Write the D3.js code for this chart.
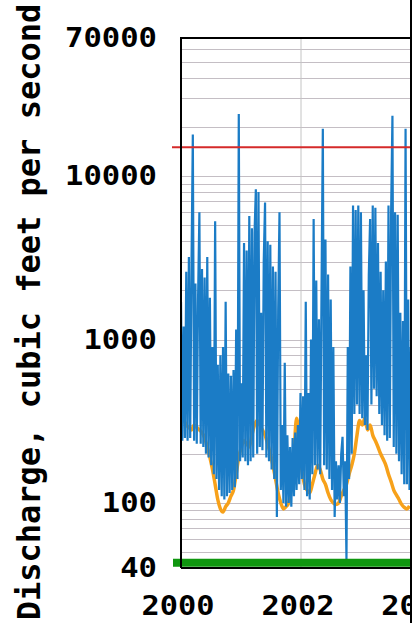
<!DOCTYPE html>
<html>
<head>
<meta charset="utf-8">
<script src="https://cdn.jsdelivr.net/npm/d3@7"></script>
<style>
body { margin: 0; background: #fff; }
svg { display: block; }
</style>
</head>
<body>
<div id="chart-area"></div>
<script>
// daily discharge, sampled every 8 days from 2000-01-01 (cfs)
var discharge = [
    1700, 240, 1200, 250, 2600, 240, 3200, 250, 2900, 18000,
    240, 2200, 230, 1800, 6000, 230, 2700, 220, 2400, 200,
    3200, 190, 1800, 170, 900, 150, 5300, 140, 700, 120,
    800, 110, 900, 105, 1700, 110, 620, 115, 600, 120,
    650, 125, 1150, 140, 24000, 180, 540, 190, 3900, 180,
    3500, 170, 5700, 180, 4800, 190, 4500, 8300, 200, 8000,
    220, 1460, 210, 3000, 6900, 190, 4000, 180, 3800, 160,
    2800, 140, 2600, 82, 1500, 6000, 120, 300, 100, 720,
    95, 260, 100, 220, 95, 250, 110, 270, 120, 300,
    130, 470, 140, 450, 120, 1700, 110, 470, 105, 1000,
    150, 5460, 170, 2300, 160, 1330, 150, 2000, 19500, 170,
    4100, 160, 2500, 140, 1760, 120, 900, 82, 180, 105,
    170, 100, 200, 254, 110, 180, 45, 900, 140, 2800,
    200, 6600, 350, 6200, 400, 6600, 350, 6000, 330, 2000,
    300, 800, 280, 2500, 5460, 400, 6600, 500, 6400, 450,
    3900, 350, 2600, 300, 2000, 260, 3000, 240, 6600, 250,
    6000, 23400, 220, 6000, 200, 5800, 180, 1460, 150, 1300,
    130, 19500, 130, 1760, 120, 900
];
var dischargeStepDays = 8;

// orange series, every 16 days from 2000-01-01 (cfs)
var baseflow = [
    380, 330, 300, 290, 280, 300, 290, 280, 270, 250,
    220, 190, 160, 130, 105, 92, 88, 95, 100, 110,
    120, 150, 190, 220, 240, 230, 220, 260, 300, 320,
    300, 280, 260, 230, 200, 170, 140, 115, 100, 92,
    95, 100, 130, 200, 330, 250, 160, 130, 120, 115,
    130, 150, 170, 160, 140, 130, 115, 105, 100, 98,
    100, 110, 120, 130, 150, 170, 200, 260, 320, 300,
    330, 280, 300, 260, 240, 220, 200, 185, 170, 150,
    135, 120, 112, 105, 98, 94, 92, 96
];
var baseflowStepDays = 16;

var yTicks = [40, 100, 1000, 10000, 70000];
var xTickYears = [2000, 2002, 2004];
var floodLevel = 15000;
var lowLevel = 43;

var plotLeft = 181, plotRight = 411, plotTop = 38, plotBottom = 568;
var start = new Date(2000, 0, 1);

var svg = d3.select("#chart-area")
    .append("svg")
        .attr("width", 415)
        .attr("height", 623);

var x = d3.scaleTime()
    .domain([start, new Date(2002, 0, 1)])
    .range([plotLeft, 301]);

var y = d3.scaleLog()
    .domain([40, 70000])
    .range([plotBottom, plotTop]);

svg.append("clipPath")
    .attr("id", "plot-clip")
  .append("rect")
    .attr("x", plotLeft)
    .attr("y", plotTop)
    .attr("width", plotRight - plotLeft)
    .attr("height", plotBottom - plotTop);

// horizontal grid, 1-9 per decade
var gridVals = [];
[10, 100, 1000, 10000].forEach(function(dec) {
    for (var m = 1; m <= 9; m++) {
        var v = dec * m;
        if (v > 40 && v < 70000) gridVals.push(v);
    }
});

svg.append("g")
    .selectAll("line")
    .data(gridVals)
    .enter().append("line")
        .attr("x1", plotLeft)
        .attr("x2", plotRight)
        .attr("y1", function(d){ return Math.round(y(d)) + 0.5; })
        .attr("y2", function(d){ return Math.round(y(d)) + 0.5; })
        .attr("stroke", "#c4bec4")
        .attr("stroke-width", 1);

svg.append("g")
    .selectAll("line")
    .data(xTickYears)
    .enter().append("line")
        .attr("x1", function(d){ return x(new Date(d, 0, 1)); })
        .attr("x2", function(d){ return x(new Date(d, 0, 1)); })
        .attr("y1", plotTop)
        .attr("y2", plotBottom)
        .attr("stroke", "#c4c4c4")
        .attr("stroke-width", 1);

var plot = svg.append("g").attr("clip-path", "url(#plot-clip)");

var baseLine = d3.line()
    .x(function(d, i){ return x(d3.timeDay.offset(start, i * baseflowStepDays)); })
    .y(function(d){ return y(d); })
    .curve(d3.curveMonotoneX);

plot.append("path")
    .datum(baseflow)
    .attr("d", baseLine)
    .attr("fill", "none")
    .attr("stroke", "#f7a11a")
    .attr("stroke-width", 3.5);

var flowLine = d3.line()
    .x(function(d, i){ return x(d3.timeDay.offset(start, i * dischargeStepDays)); })
    .y(function(d){ return y(d); });

plot.append("path")
    .datum(discharge)
    .attr("d", flowLine)
    .attr("fill", "none")
    .attr("stroke", "#1b7cc6")
    .attr("stroke-width", 2.2)
    .attr("stroke-linejoin", "bevel");

// flood level
svg.append("line")
    .attr("x1", 172)
    .attr("x2", plotRight)
    .attr("y1", y(floodLevel))
    .attr("y2", y(floodLevel))
    .attr("stroke", "#d52a2a")
    .attr("stroke-width", 2);

// low level
svg.append("line")
    .attr("x1", 173)
    .attr("x2", plotRight)
    .attr("y1", y(lowLevel))
    .attr("y2", y(lowLevel))
    .attr("stroke", "#0f960f")
    .attr("stroke-width", 8);

// frame
svg.append("path")
    .attr("d", "M" + plotLeft + "," + plotBottom + "V" + plotTop + "H" + plotRight + "M" + plotLeft + "," + plotBottom + "H" + plotRight)
    .attr("fill", "none")
    .attr("stroke", "#000")
    .attr("stroke-width", 2);

// y tick labels
svg.append("g")
    .selectAll("text")
    .data(yTicks)
    .enter().append("text")
        .attr("x", 157)
        .attr("y", function(d){ return y(d) + 9; })
        .attr("text-anchor", "end")
        .attr("font-family", "DejaVu Sans Mono")
        .attr("font-weight", "bold")
        .attr("font-size", "26px")
        .attr("textLength", function(d){ return String(d).length * 18.4; })
        .attr("lengthAdjust", "spacingAndGlyphs")
        .attr("fill", "#000")
        .text(function(d){ return d; });

// x tick labels
svg.append("g")
    .selectAll("text")
    .data(xTickYears)
    .enter().append("text")
        .attr("x", function(d){ return x(new Date(d, 0, 1)) - 39.5; })
        .attr("y", 615)
        .attr("font-family", "DejaVu Sans Mono")
        .attr("font-weight", "bold")
        .attr("font-size", "26px")
        .attr("textLength", 73)
        .attr("lengthAdjust", "spacingAndGlyphs")
        .attr("fill", "#000")
        .text(function(d){ return d; });

// y label
svg.append("text")
    .attr("transform", "translate(40, 312) rotate(-90)")
    .attr("text-anchor", "middle")
    .attr("font-family", "DejaVu Sans Mono")
    .attr("font-weight", "bold")
    .attr("font-size", "32px")
    .attr("fill", "#000")
    .text("Discharge, cubic feet per second");

// right edge of the cropped picture
svg.append("rect")
    .attr("x", 412)
    .attr("y", 0)
    .attr("width", 3)
    .attr("height", 623)
    .attr("fill", "#fff");
svg.append("line")
    .attr("x1", 411)
    .attr("x2", 411)
    .attr("y1", 0)
    .attr("y2", 623)
    .attr("stroke", "#000")
    .attr("stroke-width", 2);
</script>
</body>
</html>
